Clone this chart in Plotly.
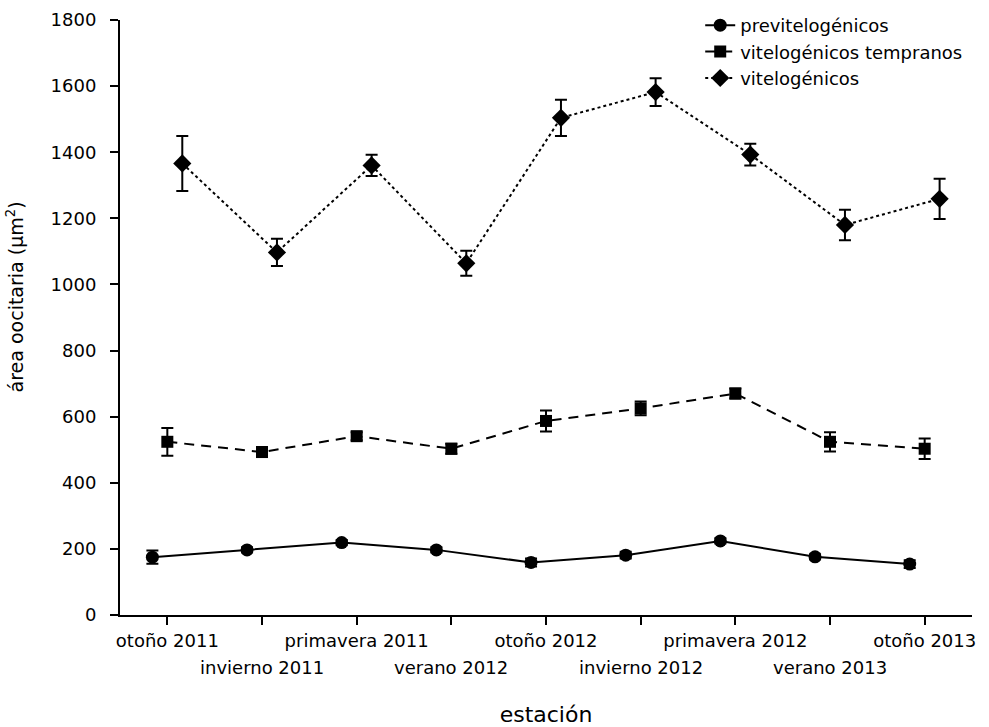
import plotly.graph_objects as go

seasons = ["otoño 2011", "invierno 2011", "primavera 2011", "verano 2012", "otoño 2012",
           "invierno 2012", "primavera 2012", "verano 2013", "otoño 2013"]

previ = [175, 197, 219, 197, 159, 181, 224, 176, 154]
previ_err = [20, 8, 8, 8, 12, 10, 8, 8, 12]

temprano = [524, 493, 541, 503, 587, 625, 670, 524, 503]
temprano_err = [42, 15, 12, 15, 32, 21, 15, 29, 31]

vitelo = [1366, 1097, 1360, 1064, 1504, 1582, 1393, 1180, 1259]
vitelo_err = [83, 41, 32, 38, 55, 42, 33, 46, 61]

y_ticks = [0, 200, 400, 600, 800, 1000, 1200, 1400, 1600, 1800]

FONT = "DejaVu Sans"
idx = list(range(len(seasons)))
even_idx = [i for i in idx if i % 2 == 0]
odd_idx = [i for i in idx if i % 2 == 1]
OFF = 0.158

def shifted(d):
    return [i + d for i in idx]

fig = go.Figure()
fig.add_trace(go.Scatter(
    x=shifted(-OFF), y=previ, name="previtelogénicos", mode="lines+markers",
    line=dict(color="black", width=2),
    marker=dict(symbol="circle", size=13, color="black"),
    error_y=dict(type="data", array=previ_err, color="black", thickness=2, width=6)))
fig.add_trace(go.Scatter(
    x=shifted(0), y=temprano, name="vitelogénicos tempranos", mode="lines+markers",
    line=dict(color="black", width=2, dash="10px,7px"),
    marker=dict(symbol="square", size=12, color="black"),
    error_y=dict(type="data", array=temprano_err, color="black", thickness=2, width=6)))
fig.add_trace(go.Scatter(
    x=shifted(OFF), y=vitelo, name="vitelogénicos", mode="lines+markers",
    line=dict(color="black", width=2, dash="3px,3px"),
    marker=dict(symbol="diamond", size=14, color="black"),
    error_y=dict(type="data", array=vitelo_err, color="black", thickness=2, width=6)))

# staggered (second-row) category labels
for i in odd_idx:
    fig.add_annotation(x=i, xref="x", y=0, yref="paper", yanchor="top",
                       text=seasons[i], showarrow=False, yshift=-40,
                       font=dict(family=FONT, size=18, color="black"))

# y-axis title
fig.add_annotation(x=-0.123, xref="paper", y=0.534, yref="paper",
                   xanchor="center", yanchor="middle", textangle=-90,
                   text="área oocitaria (µm<sup>2</sup>)", showarrow=False,
                   font=dict(family=FONT, size=19, color="black"))

fig.update_layout(
    width=989, height=727,
    margin=dict(l=120, r=17, t=20, b=112, autoexpand=False),
    paper_bgcolor="white", plot_bgcolor="white",
    font=dict(family=FONT, size=18, color="black"),
    showlegend=True,
    legend=dict(x=0.681, xref="paper", y=1 - 7 / 727, yref="container",
                xanchor="left", yanchor="top",
                bgcolor="rgba(0,0,0,0)", font=dict(size=18), itemwidth=30),
    xaxis=dict(range=[-0.5, 8.5], tickmode="array", tickvals=even_idx,
               ticktext=[seasons[i] for i in even_idx],
               minor=dict(tickmode="array", tickvals=odd_idx, ticks="outside",
                          ticklen=8, tickwidth=2, tickcolor="black", showgrid=False),
               showline=True, linecolor="black", linewidth=2, ticks="outside",
               ticklen=8, tickwidth=2, tickcolor="black", showgrid=False, zeroline=False,
               title=dict(text="estación", standoff=67), automargin=False),
    yaxis=dict(range=[0, 1800], tickmode="array", tickvals=y_ticks,
               showline=True, linecolor="black", linewidth=2, ticks="outside",
               ticklen=8, tickwidth=2, tickcolor="black", showgrid=False, zeroline=False,
               ticklabelstandoff=10, automargin=False),
)

fig.write_html("out.html", config={"displayModeBar": False},
               post_script="document.body.style.margin='0';")
